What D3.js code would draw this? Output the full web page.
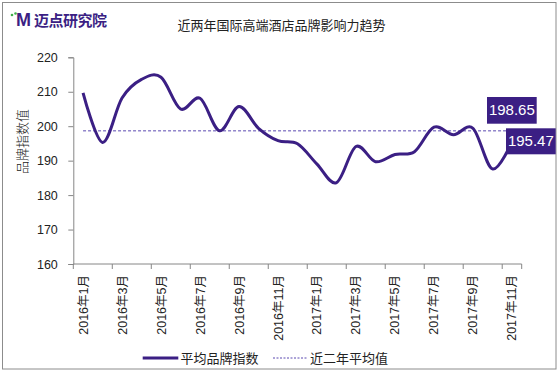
<!DOCTYPE html>
<html><head><meta charset="utf-8">
<script src="https://cdn.jsdelivr.net/npm/d3@7"></script>
<style>
body{margin:0;background:#fff;}
text{font-family:"Liberation Sans","Noto Sans CJK SC",sans-serif;}
</style></head>
<body><svg id="c" width="558" height="373"></svg>
<script>
const categories = ["2016年1月","2016年2月","2016年3月","2016年4月","2016年5月","2016年6月","2016年7月","2016年8月","2016年9月","2016年10月","2016年11月","2016年12月","2017年1月","2017年2月","2017年3月","2017年4月","2017年5月","2017年6月","2017年7月","2017年8月","2017年9月","2017年10月","2017年11月"];
const brandIndex = [209.7,195.3,208.2,213.6,214.2,205.0,208.1,198.7,205.7,199.4,195.8,194.9,189.0,183.6,194.1,189.7,191.8,192.6,199.7,197.5,199.4,187.6,195.47];
const avgValue = 198.65;
const yTicks = [160,170,180,190,200,210,220];
const seriesNames = ["平均品牌指数","近二年平均值"];
const titleText = "近两年国际高端酒店品牌影响力趋势";

const purple = "#3b1f84";
const svg = d3.select("#c");
const L = 73.3, R = 521.7, T = 57.3, B = 264;

// border
svg.append("rect").attr("x",2.5).attr("y",2.5).attr("width",553.5).attr("height",366.5)
  .attr("fill","none").attr("stroke","#8c8c8c").attr("stroke-width",1);

// logo
const lg = svg.append("g");
lg.append("text").attr("x",16).attr("y",26).attr("font-size",18).attr("font-weight","bold")
  .attr("fill",purple).text("M");
lg.append("circle").attr("cx",12).attr("cy",15).attr("r",1.3).attr("fill","#3fae49");
lg.append("circle").attr("cx",15.5).attr("cy",13.5).attr("r",1.3).attr("fill","#3fae49");
lg.append("text").attr("x",34).attr("y",25.5).attr("font-size",15).attr("font-weight","bold")
  .attr("fill",purple).attr("font-family","Noto Sans CJK SC").attr("letter-spacing",-0.5).text("迈点研究院");

// title
svg.append("text").attr("x",281.5).attr("y",29.5).attr("text-anchor","middle")
  .attr("font-size",13).attr("fill","#222").attr("font-family","Noto Sans CJK SC").text(titleText);

const x = d3.scaleBand().domain(categories).range([L,R]).padding(0);
const y = d3.scaleLinear().domain([160,220]).range([B,T]);
const cx = d => x(d) + x.bandwidth()/2;

// y axis
const ya = svg.append("g").attr("transform",`translate(${L},0)`)
  .call(d3.axisLeft(y).tickValues(yTicks).tickSize(5).tickPadding(10));
ya.select(".domain").attr("stroke","#868686");
ya.selectAll(".tick line").attr("stroke","#868686");
ya.selectAll(".tick text").attr("fill","#222")
  .attr("font-family","DejaVu Sans").style("font-size","12.5px").attr("dx",-0.5);

// x axis
const xa = svg.append("g").attr("transform",`translate(0,${B})`);
xa.append("line").attr("x1",L).attr("x2",R).attr("y1",0).attr("y2",0).attr("stroke","#868686");
categories.forEach((c,i)=>{
  if(i%2===0){
    xa.append("line").attr("x1",x(c)).attr("x2",x(c)).attr("y1",0).attr("y2",5).attr("stroke","#868686");
    xa.append("text").attr("transform",`translate(${cx(c)+4.5},${11}) rotate(-90)`)
      .attr("text-anchor","end").attr("font-size",12.5).attr("fill","#222").text(c);
  }
});
xa.append("line").attr("x1",R).attr("x2",R).attr("y1",0).attr("y2",5).attr("stroke","#868686");

// y title
svg.append("text").attr("transform","translate(27,141.5) rotate(-90)").attr("text-anchor","middle")
  .attr("font-size",13).attr("font-weight",300).attr("fill","#222").attr("font-family","Noto Sans CJK SC").text("品牌指数值");

// average line
svg.append("line").attr("x1",cx(categories[0])).attr("x2",cx(categories[22]))
  .attr("y1",y(avgValue)).attr("y2",y(avgValue)).attr("stroke","#5a48b0").attr("stroke-width",1)
  .attr("stroke-dasharray","3,2");

// series line
const line = d3.line().x((d,i)=>cx(categories[i])).y(d=>y(d)).curve(d3.curveCardinal.tension(0));
svg.append("path").datum(brandIndex).attr("d",line).attr("fill","none")
  .attr("stroke",purple).attr("stroke-width",3).attr("stroke-linejoin","round");

// labels
function box(x0,y0,w,h,txt){
  svg.append("rect").attr("x",x0).attr("y",y0).attr("width",w).attr("height",h).attr("fill",purple);
  svg.append("text").attr("x",x0+w/2).attr("y",y0+h/2+5).attr("text-anchor","middle")
    .attr("font-size",15).attr("fill","#fff").text(txt);
}
box(487,97,49.7,26.7,avgValue.toFixed(2));
box(506,128.3,49.7,26,brandIndex[22].toFixed(2));

// legend
svg.append("line").attr("x1",142.7).attr("x2",178.3).attr("y1",358).attr("y2",358).attr("stroke",purple).attr("stroke-width",3);
svg.append("text").attr("x",180.5).attr("y",362.5).attr("font-size",13).attr("fill","#222").attr("font-family","Noto Sans CJK SC").text(seriesNames[0]);
svg.append("line").attr("x1",273).attr("x2",308).attr("y1",358).attr("y2",358).attr("stroke","#5a48b0").attr("stroke-width",1).attr("stroke-dasharray","2,1.5");
svg.append("text").attr("x",310).attr("y",362.5).attr("font-size",13).attr("fill","#222").attr("font-family","Noto Sans CJK SC").text(seriesNames[1]);
</script></body></html>
